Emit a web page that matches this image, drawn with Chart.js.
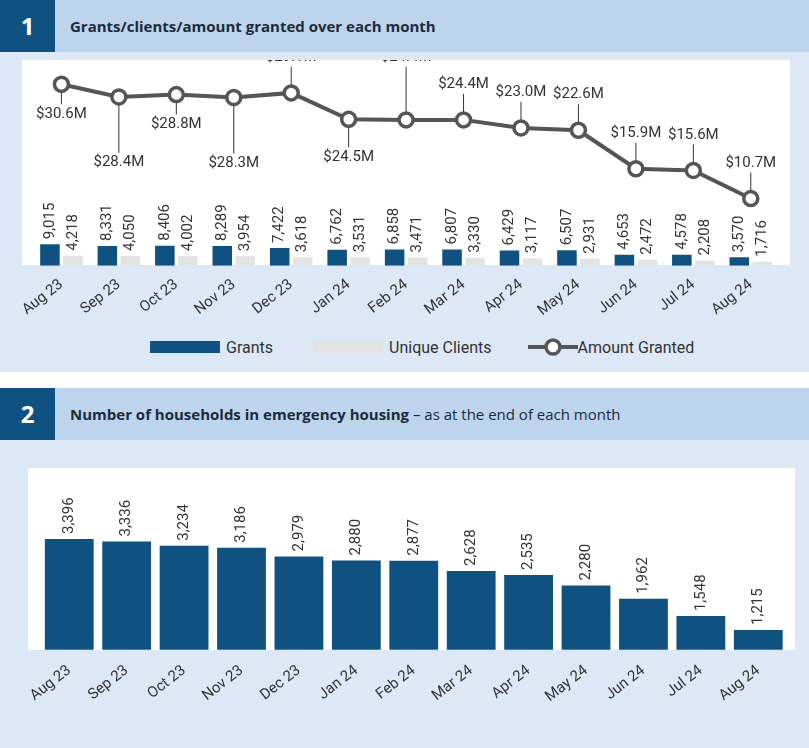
<!DOCTYPE html>
<html><head><meta charset="utf-8">
<script src="https://cdn.jsdelivr.net/npm/chart.js@4"></script>
<style>
body{margin:0;background:#fff;font-family:Roboto,"Open Sans",sans-serif;}
#wrap{position:relative;width:809px;height:748px;overflow:hidden;}
.panel{position:absolute;left:0;width:809px;background:#dce8f5;}
.head{position:absolute;left:0;width:809px;height:52px;background:#bcd4ec;}
.num{position:absolute;left:0;top:0;width:55px;height:52px;background:#0f5282;color:#fff;font:bold 24px "Open Sans",sans-serif;line-height:52px;text-align:center;}
.title{position:absolute;left:70px;top:0;font:bold 15px "Open Sans",sans-serif;line-height:52px;color:#1d2b3a;}
.title span{font-weight:normal;}
canvas{position:absolute;}
#legend{position:absolute;left:150px;top:337px;font:16px Roboto,sans-serif;color:#333;display:flex;align-items:center;}
.sw{display:inline-block;width:70px;height:12px;margin-right:6px;}
</style></head><body>
<div id="wrap">
  <div class="panel" style="top:0;height:372px"></div>
  <div class="head" style="top:0"><div class="num">1</div><div class="title">Grants/clients/amount granted over each month</div></div>
  <div style="position:absolute;left:22px;top:60px;width:768px;height:205px;background:#fff"></div>
  <canvas id="c1" style="left:22px;top:60px" width="768" height="262"></canvas>
  <div id="legend">
    <span class="sw" style="background:#0f5282"></span><span style="margin-right:40px">Grants</span>
    <span class="sw" style="background:#e3e3e3"></span><span style="margin-right:36px">Unique Clients</span>
    <svg width="50" height="20"><line x1="0" y1="10" x2="50" y2="10" stroke="#555" stroke-width="4"/><circle cx="25" cy="10" r="7" fill="#fff" stroke="#555" stroke-width="3.5"/></svg><span>Amount Granted</span>
  </div>
  <div class="panel" style="top:388px;height:360px"></div>
  <div class="head" style="top:388px"><div class="num">2</div><div class="title">Number of households in emergency housing <span>– as at the end of each month</span></div></div>
  <div style="position:absolute;left:28px;top:468px;width:767px;height:182px;background:#fff"></div>
  <canvas id="c2" style="left:28px;top:468px" width="767" height="242"></canvas>
</div>
<script>
const months = ['Aug 23','Sep 23','Oct 23','Nov 23','Dec 23','Jan 24','Feb 24','Mar 24','Apr 24','May 24','Jun 24','Jul 24','Aug 24'];
const grants = [9015,8331,8406,8289,7422,6762,6858,6807,6429,6507,4653,4578,3570];
const clients = [4218,4050,4002,3954,3618,3531,3471,3330,3117,2931,2472,2208,1716];
const amount = [30.6,28.4,28.8,28.3,29.1,24.5,24.4,24.4,23.0,22.6,15.9,15.6,10.7];
const households = [3396,3336,3234,3186,2979,2880,2877,2628,2535,2280,1962,1548,1215];
// label leader offsets in px (style only)
const amountLabelOffset = [22,58,22,58,-28,30,-55,-28,-28,-28,-28,-28,-28];

const fmt = v => v.toLocaleString('en-US');
const tickFont = {family:'Roboto', size:15};

const barLabels = {
  id:'barLabels',
  afterDatasetsDraw(chart){
    const ctx = chart.ctx;
    ctx.save();
    ctx.font = '15px Roboto';
    ctx.fillStyle = '#333';
    ctx.textBaseline = 'middle';
    chart.data.datasets.forEach((ds,i)=>{
      if(ds.type==='line') return;
      chart.getDatasetMeta(i).data.forEach((bar,j)=>{
        ctx.save();
        ctx.translate(bar.x, bar.y-5);
        ctx.rotate(-Math.PI/2);
        ctx.fillText(fmt(ds.data[j]),0,0);
        ctx.restore();
      });
    });
    ctx.restore();
  }
};

const lineLabels = {
  id:'lineLabels',
  afterDatasetsDraw(chart){
    const ctx = chart.ctx;
    const meta = chart.getDatasetMeta(0);
    ctx.save();
    ctx.font = '15px Roboto';
    ctx.fillStyle = '#333';
    ctx.strokeStyle = '#333';
    ctx.lineWidth = 1;
    ctx.textAlign = 'center';
    meta.data.forEach((pt,j)=>{
      const off = amountLabelOffset[j];
      const ty = pt.y + off;
      ctx.beginPath();
      ctx.moveTo(pt.x, pt.y + (off>0?8:-8));
      ctx.lineTo(pt.x, off>0 ? ty-2 : ty+2);
      ctx.stroke();
      ctx.textBaseline = off>0 ? 'top' : 'bottom';
      ctx.fillText('$'+amount[j].toFixed(1)+'M', pt.x, ty);
    });
    ctx.restore();
  }
};

new Chart(document.getElementById('c1'), {
  data:{
    labels: months,
    datasets:[
      {type:'line', label:'Amount Granted', data:amount, yAxisID:'y1', borderColor:'#555', borderWidth:4,
       pointRadius:7, pointBorderWidth:3.5, pointBackgroundColor:'#fff', pointBorderColor:'#555', order:0},
      {type:'bar', label:'Grants', data:grants, backgroundColor:'#0f5282', barPercentage:0.85, categoryPercentage:0.8, order:1},
      {type:'bar', label:'Unique Clients', data:clients, backgroundColor:'#e3e3e3', barPercentage:0.85, categoryPercentage:0.8, order:1}
    ]
  },
  options:{
    responsive:false, animation:false,
    layout:{padding:{left:10,right:10}},
    plugins:{legend:{display:false}, tooltip:{enabled:false}},
    scales:{
      x:{grid:{display:false}, border:{display:false}, ticks:{color:'#333', font:tickFont, maxRotation:38, minRotation:38, padding:2}},
      y:{display:false, min:0, max:82000},
      y1:{display:false, min:-1, max:33}
    }
  },
  plugins:[barLabels, lineLabels]
});

new Chart(document.getElementById('c2'), {
  type:'bar',
  data:{labels:months, datasets:[{label:'Households', data:households, backgroundColor:'#0f5282', barPercentage:0.85, categoryPercentage:1}]},
  options:{
    responsive:false, animation:false,
    layout:{padding:{left:6,right:8}},
    plugins:{legend:{display:false}, tooltip:{enabled:false}},
    scales:{
      x:{grid:{display:false}, border:{display:false}, ticks:{color:'#333', font:tickFont, maxRotation:38, minRotation:38, padding:4}},
      y:{display:false, min:740, max:5100}
    }
  },
  plugins:[barLabels]
});
</script>
</body></html>
